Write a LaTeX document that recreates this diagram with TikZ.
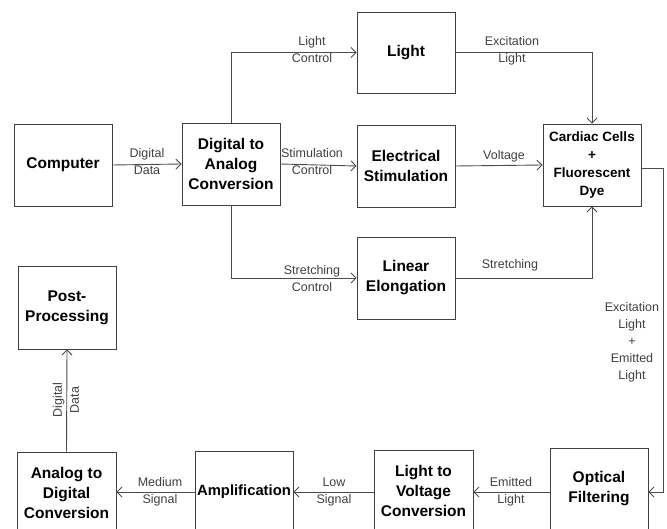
\documentclass[tikz,border=0pt]{standalone}
\usepackage{fontspec}
\setmainfont{Liberation Sans}
\usetikzlibrary{arrows.meta,calc}
\begin{document}
\begin{tikzpicture}[x=1pt,y=-1pt,
  blk/.style={draw=black!75,line width=0.9pt,minimum width=98pt,minimum height=82pt,
    inner sep=1pt,align=center,font=\fontsize{15.5}{20}\selectfont\bfseries},
  lbl/.style={align=center,text=black!75,inner sep=0pt,font=\fontsize{12.5}{17}\selectfont},
  conn/.style={draw=black!70,line width=0.9pt,-{Straight Barb[length=5pt,width=10pt]}},
  wire/.style={draw=black!70,line width=0.9pt}]
\useasboundingbox (0,0) rectangle (667,529);
% blocks
\node[blk] (comp) at (63,165) {Computer};
\node[blk] (dac) at (231,164) {Digital to\\Analog\\Conversion};
\node[blk,minimum height=81pt] (light) at (406,52.5) {Light};
\node[blk] (elec) at (406,166) {Electrical\\Stimulation};
\node[blk,font=\fontsize{13.5}{18}\selectfont\bfseries] (cell) at (592,165) {Cardiac Cells\\+\\Fluorescent\\Dye};
\node[blk] (lin) at (406,278) {Linear\\Elongation};
\node[blk,minimum height=83pt] (post) at (67,307.5) {Post-\\Processing};
\node[blk,minimum width=99pt] (adc) at (66.5,493) {Analog to\\Digital\\Conversion};
\node[blk,inner sep=0pt,font=\fontsize{14.8}{20}\selectfont\bfseries] (amp) at (244,492) {Amplification};
\node[blk,minimum width=99pt] (ltv) at (423.5,491) {Light to\\Voltage\\Conversion};
\node[blk] (opt) at (599,489) {Optical\\Filtering};
% connectors
\draw[conn] (comp.east) -- (dac.west);
\draw[conn] (dac.north) |- (light.west);
\draw[conn] (dac.east) -- (elec.west);
\draw[conn] (dac.south) |- (lin.west);
\draw[conn] (light.east) -| (cell.north);
\draw[conn] (elec.east) -- (cell.west);
\draw[conn] (lin.east) -| (cell.south);
\coordinate (turn) at ($(cell.east)+(22,3)$);
\draw[wire] ($(cell.east)+(0,3)$) -- (turn);
\draw[conn] (turn) |- ($(opt.east)+(0,3)$);
\draw[conn] ($(opt.west)+(0,3)$) -- ($(ltv.east)+(0,1)$);
\draw[conn] ($(ltv.west)+(0,1)$) -- (amp.east);
\draw[conn] (amp.west) -- ($(adc.east)+(0,-1)$);
\draw[conn] (adc.north) -- (post.south);
% labels
\node[lbl] (l1) at (147,162) {Digital\\Data};
\node[lbl] (l2) at (312,50) {Light\\Control};
\node[lbl] (l3) at (312,162) {Stimulation\\Control};
\node[lbl] (l4) at (312,279) {Stretching\\Control};
\node[lbl] (l5) at (512,51) {Excitation\\Light};
\node[lbl] (l6) at (504,156) {Voltage};
\node[lbl] (l7) at (510,265) {Stretching};
\node[lbl] (l8) at (632,342) {Excitation\\Light\\+\\Emitted\\Light};
\node[lbl] (l9) at (511,492) {Emitted\\Light};
\node[lbl] (l10) at (334,492) {Low\\Signal};
\node[lbl] (l11) at (160,492) {Medium\\Signal};
\node[lbl,rotate=90] (l12) at (66,400) {Digital\\Data};
\end{tikzpicture}
\end{document}
